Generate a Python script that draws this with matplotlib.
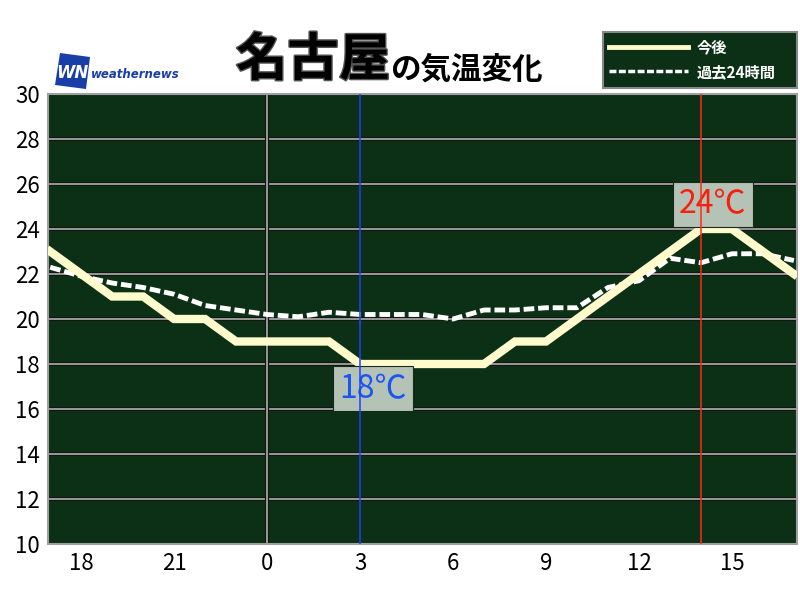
import matplotlib
matplotlib.use("Agg")
import matplotlib.pyplot as plt
import matplotlib.patheffects as pe
from matplotlib.patches import Polygon, Rectangle
from matplotlib.lines import Line2D

plt.rcParams['font.family'] = ['Noto Sans CJK JP', 'DejaVu Sans']

# Data (hours counted from previous-day 0:00; 24 == midnight)
hours = list(range(17, 42))
forecast = [23, 22, 21, 21, 20, 20, 19, 19, 19, 19, 18, 18, 18, 18, 18,
            19, 19, 20, 21, 22, 23, 24, 24, 23, 22]
past24 = [22.3, 21.9, 21.6, 21.4, 21.1, 20.6, 20.4, 20.2, 20.1, 20.3, 20.2,
          20.2, 20.2, 20.0, 20.4, 20.4, 20.5, 20.5, 21.4, 21.7, 22.7, 22.5,
          22.9, 22.9, 22.6]
xtick_pos = [18, 21, 24, 27, 30, 33, 36, 39]
xtick_labels = ['18', '21', '0', '3', '6', '9', '12', '15']
ytick_vals = list(range(10, 31, 2))
min_hour, min_val = 27, 18
max_hour, max_val = 38, 24

W, H = 800, 600
fig = plt.figure(figsize=(8, 6), dpi=100)
fig.patch.set_facecolor('white')

def fx(x):
    return x / W

def fy(y):
    return 1 - y / H

ax = fig.add_axes([fx(48), fy(544), fx(797) - fx(48), fy(94) - fy(544)])
ax.set_facecolor('#0b3015')
ax.set_xlim(16.93, 41.1)
ax.set_ylim(10, 30)

# grid lines
shadow = [pe.Stroke(linewidth=3.0, foreground='#101810'), pe.Normal()]
for v in ytick_vals[1:-1]:
    ax.axhline(v, color='#999999', lw=1.4, zorder=1, path_effects=shadow)
ax.axvline(24, color='#999999', lw=1.4, zorder=1, path_effects=shadow)

# lines
ax.plot(hours, past24, color='white', lw=3.5, ls=(0, (2.2, 0.8)), zorder=3,
        solid_capstyle='butt', dash_capstyle='butt')
ax.plot(hours, forecast, color='#fffbcc', lw=6, zorder=4, solid_joinstyle='miter')

# vertical marker lines
ax.axvline(min_hour, color='#1a44ff', lw=1.1, zorder=6)
ax.axvline(max_hour, color='#ff2a1a', lw=1.1, zorder=6)

# annotations
ax.text(min_hour + 0.42, min_val - 1.1, f'{min_val}℃', color='#1a55f5', fontsize=23,
        ha='center', va='center', zorder=5,
        bbox=dict(boxstyle='square,pad=0.2', facecolor='#b5c3b6', edgecolor='#1a2a1a', lw=0.8))
ax.text(max_hour + 0.38, max_val + 1.1, f'{max_val}℃', color='#f52010', fontsize=23,
        ha='center', va='center', zorder=5,
        bbox=dict(boxstyle='square,pad=0.2', facecolor='#b5c3b6', edgecolor='#1a2a1a', lw=0.8))

ax.set_xticks(xtick_pos)
ax.set_xticklabels(xtick_labels)
ax.set_yticks(ytick_vals)
ax.set_yticklabels([str(v) for v in ytick_vals])
ax.tick_params(length=0, labelsize=16, colors='black', pad=6)
for s in ax.spines.values():
    s.set_color('#a0a0a0')
    s.set_linewidth(1.5)

# Title
fig.text(fx(236), fy(60), '名古屋', fontsize=37, fontweight='bold', color='black',
         ha='left', va='center',
         path_effects=[pe.Stroke(linewidth=2, foreground='#555555'), pe.Normal()])
fig.text(fx(390), fy(70), 'の気温変化', fontsize=22, fontweight='bold', color='black',
         ha='left', va='center')

# Logo
logo = Polygon([[fx(60), fy(53)], [fx(90), fy(57)], [fx(86), fy(89)], [fx(55), fy(85)]],
               closed=True, transform=fig.transFigure, facecolor='#1a3ea8', edgecolor='none')
fig.patches.append(logo)
fig.text(fx(72), fy(73), 'WN', fontsize=12, fontweight='bold', fontstyle='italic',
         color='white', ha='center', va='center', family='DejaVu Sans')
fig.text(fx(91), fy(74), 'weathernews', fontsize=8.5, fontstyle='italic', fontweight='bold',
         color='#1a3ea8', ha='left', va='center', family='DejaVu Sans')

# Legend box
leg = Rectangle((fx(603), fy(88)), fx(797) - fx(603), fy(32) - fy(88),
                transform=fig.transFigure, facecolor='#0b3015', edgecolor='#888888', lw=1.5)
fig.patches.append(leg)
fig.lines.append(Line2D([fx(609), fx(688)], [fy(47), fy(47)], transform=fig.transFigure,
                        color='#fffbcc', lw=3.5))
fig.lines.append(Line2D([fx(609), fx(688)], [fy(71), fy(71)], transform=fig.transFigure,
                        color='white', lw=2.5, ls=(0, (2.0, 0.7))))
fig.text(fx(697), fy(47), '今後', fontsize=11, fontweight='bold', color='white',
         ha='left', va='center')
fig.text(fx(697), fy(72), '過去24時間', fontsize=11, fontweight='bold', color='white',
         ha='left', va='center')

fig.savefig('out.png', dpi=100)
